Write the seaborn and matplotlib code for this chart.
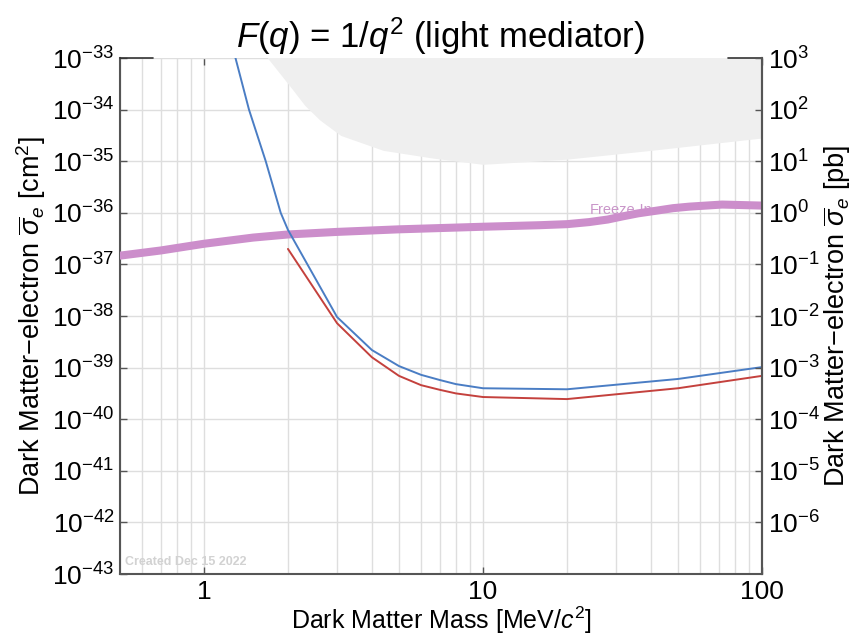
import numpy as np
import pandas as pd
import matplotlib
matplotlib.use("Agg")
import matplotlib.pyplot as plt
import seaborn as sns
from matplotlib.ticker import FixedLocator, NullLocator, FuncFormatter, LogFormatterSciNotation

# ---------------- data (log10 of cross section in cm^2) ----------------
blue_mass = [1.29, 1.45, 1.665, 1.884, 2.0, 3, 4, 5, 6, 7, 8, 10, 20, 50, 100]
blue_logsig = [-32.95, -34.0, -35.0, -36.0, -36.33, -38.02, -38.66, -38.97, -39.14,
               -39.24, -39.32, -39.40, -39.42, -39.22, -38.99]

red_mass = [2, 3, 4, 5, 6, 7, 8, 10, 20, 50, 100]
red_logsig = [-36.70, -38.14, -38.80, -39.16, -39.34, -39.43, -39.50, -39.57,
              -39.61, -39.40, -39.16]

freeze_mass = [0.5, 0.7, 1, 1.5, 2, 3, 5, 10, 16, 20, 24, 28, 31.6, 36, 41.7, 48, 55, 72, 100]
freeze_logsig = [-36.83, -36.73, -36.60, -36.48, -36.42, -36.37, -36.32, -36.27, -36.24,
                 -36.22, -36.18, -36.13, -36.07, -36.01, -35.96, -35.91, -35.88, -35.84,
                 -35.86]

excl_mass = [1.6, 1.69, 2.07, 2.3, 2.6, 3.09, 4.39, 6.63, 10, 20, 40, 100]
excl_logsig = [-32.6, -33.0, -33.6, -33.92, -34.2, -34.5, -34.79, -34.94, -35.06,
               -34.96, -34.79, -34.55]

x_ticks = [1, 10, 100]
y_ticks_cm2 = list(range(-43, -32))
y_ticks_pb = list(range(-6, 4))

title = r"$F$($q$) = 1/$q^2$ (light mediator)"
xlabel = r"Dark Matter Mass [MeV/$c^2$]"
ylabel_left = r"Dark Matter−electron $\overline{\sigma}_e$ [cm$^2$]"
ylabel_right = r"Dark Matter−electron $\overline{\sigma}_e$ [pb]"
watermark = "Created Dec 15 2022"
freeze_label = "Freeze-In"

# ---------------- style ----------------
sns.set_style("ticks")
plt.rcParams["font.family"] = ["Liberation Sans", "DejaVu Sans"]
plt.rcParams["mathtext.fontset"] = "custom"
plt.rcParams["mathtext.rm"] = "Liberation Sans"
plt.rcParams["mathtext.it"] = "Liberation Sans:italic"
plt.rcParams["mathtext.bf"] = "Liberation Sans:bold"
for key in ("text.color", "axes.labelcolor", "xtick.labelcolor", "ytick.labelcolor"):
    plt.rcParams[key] = "black"

spine_color = "#555555"
grid_color = "#dedede"

fig = plt.figure(figsize=(8.6, 6.41), dpi=100)
ax = fig.add_axes([0.1395, 0.1045, 0.7465, 0.805])

df_blue = pd.DataFrame({"m": blue_mass, "s": 10.0 ** np.array(blue_logsig)})
df_red = pd.DataFrame({"m": red_mass, "s": 10.0 ** np.array(red_logsig)})
df_fr = pd.DataFrame({"m": freeze_mass, "s": 10.0 ** np.array(freeze_logsig)})

ax.set_xscale("log")
ax.set_yscale("log")

# excluded region
ax.fill_between(excl_mass, 10.0 ** np.array(excl_logsig), 1e-30,
                color="#efefef", lw=0, zorder=1)

# freeze-in label (behind the band)
ax.text(31.4, 10 ** -35.95, freeze_label, color="#c995c9", fontsize=10.5,
        ha="center", va="center", zorder=2)

sns.lineplot(data=df_fr, x="m", y="s", ax=ax, color="#cc8ecb", lw=5.8,
             zorder=3, sort=True, estimator=None)
sns.lineplot(data=df_red, x="m", y="s", ax=ax, color="#c4413d", lw=1.4,
             zorder=4, estimator=None)
sns.lineplot(data=df_blue, x="m", y="s", ax=ax, color="#4a7dc4", lw=1.4,
             zorder=5, estimator=None)

ax.set_xlim(0.5, 100)
ax.set_ylim(1e-43, 1e-33)

ax.xaxis.set_major_locator(FixedLocator(x_ticks))
ax.xaxis.set_minor_locator(FixedLocator(
    [v * d for d in (0.1, 1, 10) for v in range(2, 10) if 0.5 <= v * d <= 100]))
ax.xaxis.set_major_formatter(FuncFormatter(lambda v, p: f"{v:g}"))
ax.yaxis.set_major_locator(FixedLocator([10.0 ** e for e in y_ticks_cm2]))
ax.yaxis.set_minor_locator(NullLocator())
ax.yaxis.set_major_formatter(LogFormatterSciNotation())

ax.grid(True, which="both", axis="x", color=grid_color, lw=1.0, zorder=0)
ax.grid(True, which="major", axis="y", color=grid_color, lw=1.0, zorder=0)
ax.set_axisbelow(True)

ax.tick_params(which="major", direction="in", length=5, width=1.0,
               labelsize=19, top=True, color=spine_color, pad=4,
               labelcolor="black")
ax.tick_params(which="minor", length=0)

for side in ("left", "bottom", "right"):
    ax.spines[side].set_color(spine_color)
    ax.spines[side].set_linewidth(1.5)
ax.spines["top"].set_visible(False)
for a, b in ((0.0, 0.051), (0.947, 1.0)):
    ax.plot([a, b], [1, 1], transform=ax.transAxes, color="#333333",
            lw=1.2, clip_on=False, zorder=6)

ax.set_xlabel(xlabel, fontsize=18, labelpad=1)
ax.set_ylabel(ylabel_left, fontsize=19.5, labelpad=3)
ax.set_title(title, fontsize=25, pad=7)

ax.text(0.008, 0.012, watermark, transform=ax.transAxes, fontsize=9,
        fontweight="bold", color="#d2d2d2", ha="left", va="bottom", zorder=6)

# right axis in pb
ax2 = ax.twinx()
ax2.set_yscale("log")
lo, hi = ax.get_ylim()
ax2.set_ylim(lo * 1e36, hi * 1e36)
ax2.yaxis.set_major_locator(FixedLocator([10.0 ** e for e in y_ticks_pb]))
ax2.yaxis.set_minor_locator(NullLocator())
ax2.yaxis.set_major_formatter(LogFormatterSciNotation())
ax2.tick_params(which="major", direction="in", length=5, width=1.0,
                labelsize=19, color=spine_color, pad=4, labelcolor="black")
ax2.tick_params(which="minor", length=0)
for side in ("top", "left", "bottom"):
    ax2.spines[side].set_visible(False)
ax2.spines["right"].set_color(spine_color)
ax2.spines["right"].set_linewidth(1.5)
ax2.set_ylabel(ylabel_right, fontsize=19.5, labelpad=1)
ax2.grid(False)

fig.savefig("out.png", dpi=100)
